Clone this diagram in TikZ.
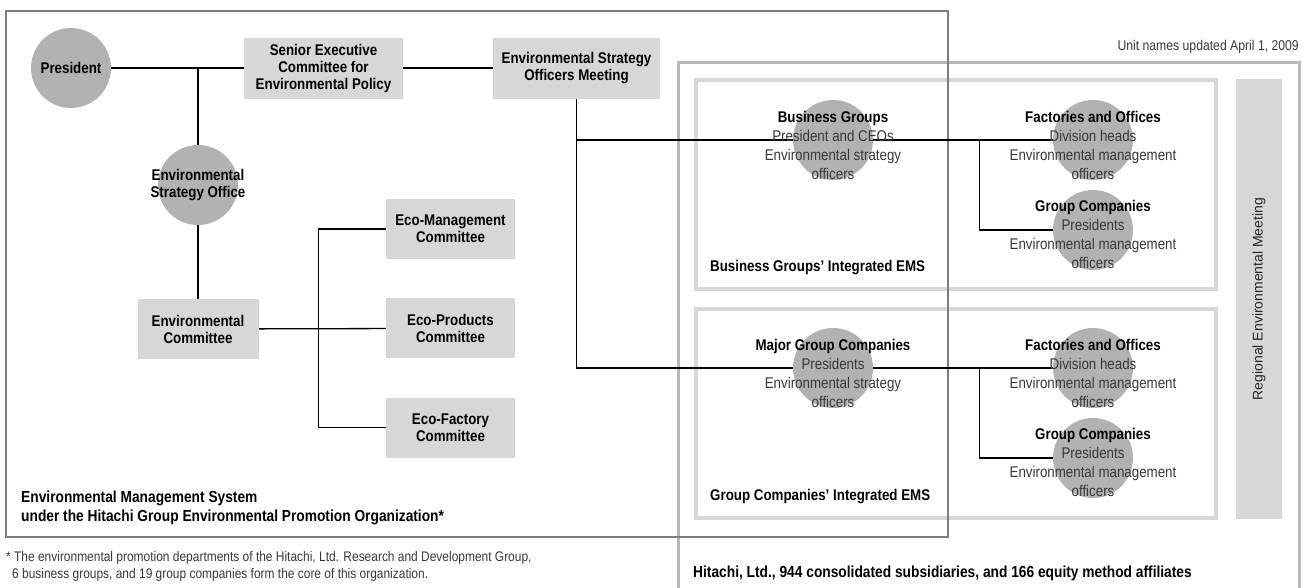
\documentclass[tikz,border=0pt]{standalone}
\usepackage{fontspec}
\setmainfont{Liberation Sans}[FakeStretch=0.86]
\newfontfamily\widesans{Liberation Sans}
\usepackage{xcolor}
\usepackage{tikz}
\usetikzlibrary{
  positioning,
  calc
}
\definecolor{unitgray}{HTML}{B1B3B3}
\definecolor{boxgray}{HTML}{D6D8D8}
\definecolor{framegray}{HTML}{7D7D7D}
\definecolor{groupgray}{HTML}{B7B9B9}
\definecolor{subtext}{HTML}{383838}
\newcommand{\unithead}[1]{\textcolor{black}{\textbf{#1}}}
\pgfdeclarelayer{frames}
\pgfdeclarelayer{wires}
\pgfsetlayers{frames,wires,main}

\begin{document}
\begin{tikzpicture}[
  x=1pt, y=-1pt,
  box/.style={fill=boxgray, minimum height=61pt, inner sep=0pt, align=center,
    font=\fontsize{15.5}{17}\selectfont\bfseries},
  unit/.style={circle, fill=unitgray, minimum size=80pt, inner sep=0pt},
  utxt/.style={align=center, inner sep=0pt, text=subtext,
    font=\fontsize{15.5}{19}\selectfont},
  wire/.style={line width=1.3pt},
  lbl/.style={anchor=west, inner sep=0pt, align=left,
    font=\fontsize{15.5}{19}\selectfont\bfseries},
]
  \useasboundingbox (0,0) rectangle (1303,587);

  % Head office side
  \node[unit, font=\fontsize{15.5}{17}\selectfont\bfseries] (pres) at (71,68) {President};
  \node[box, minimum width=159pt] (senior) at (323.5,68)
    {Senior Executive\\Committee for\\Environmental Policy};
  \node[box, minimum width=167pt] (esom) at (576.5,68)
    {Environmental Strategy\\Officers Meeting};
  \node[unit] (eso) at (198,185) {};
  \node[utxt, text=black, font=\fontsize{15.5}{16.5}\selectfont\bfseries] (esotxt) at (eso)
    {Environmental\\Strategy Office};
  \node[box, minimum width=121pt, minimum height=60pt] (ec) at (198,329)
    {Environmental\\Committee};

  % Committees
  \node[box, minimum width=129pt, minimum height=60pt] (ecom) at (450.5,229)
    {Eco-Management\\Committee};
  \node[box, minimum width=129pt, minimum height=60pt, below=39pt of ecom] (ecop)
    {Eco-Products\\Committee};
  \node[box, minimum width=129pt, minimum height=60pt, below=39pt of ecop] (ecof)
    {Eco-Factory\\Committee};

  % Units of the integrated EMS
  \node[unit] (bg) at (833,140) {};
  \node[unit] (fo1) at (1093,140) {};
  \node[unit] (gc1) at (1093,230) {};
  \node[unit] (mgc) at (833,368) {};
  \node[unit] (fo2) at (1093,368) {};
  \node[unit] (gc2) at (1093,458) {};

  \node[utxt, yshift=-5pt] (bgtxt) at (bg)
    {\unithead{Business Groups}\\President and CEOs\\Environmental strategy\\officers};
  \node[utxt, yshift=-5pt] (fo1txt) at (fo1)
    {\unithead{Factories and Offices}\\Division heads\\Environmental management\\officers};
  \node[utxt, yshift=-4pt] (gc1txt) at (gc1)
    {\unithead{Group Companies}\\Presidents\\Environmental management\\officers};
  \node[utxt, yshift=-5pt] (mgctxt) at (mgc)
    {\unithead{Major Group Companies}\\Presidents\\Environmental strategy\\officers};
  \node[utxt, yshift=-5pt] (fo2txt) at (fo2)
    {\unithead{Factories and Offices}\\Division heads\\Environmental management\\officers};
  \node[utxt, yshift=-4pt] (gc2txt) at (gc2)
    {\unithead{Group Companies}\\Presidents\\Environmental management\\officers};

  % Labels
  \node[lbl] (bgems) at (710,268) {Business Groups' Integrated EMS};
  \node[lbl] (gcems) at (710,497) {Group Companies' Integrated EMS};
  \node[lbl, font=\fontsize{16}{19}\selectfont\bfseries] (emslbl) at (21,507.5)
    {Environmental Management System\\under the Hitachi Group Environmental Promotion Organization*};
  \node[lbl, font=\fontsize{16}{19}\selectfont\bfseries] (scope) at (693,573)
    {Hitachi, Ltd., 944 consolidated subsidiaries, and 166 equity method affiliates};
  \node[anchor=east, inner sep=0pt, text=subtext, font=\fontsize{14.2}{16}\selectfont] (update)
    at (1299,47) {Unit names updated April 1, 2009};
  \node[anchor=west, inner sep=0pt, align=left, text=subtext,
    font=\fontsize{13.9}{17}\selectfont] (fnote) at (6,566.5)
    {* The environmental promotion departments of the Hitachi, Ltd. Research and Development Group,\\
     \hspace*{6pt}6 business groups, and 19 group companies form the core of this organization.};

  % Frames
  \begin{pgfonlayer}{frames}
    \draw[groupgray, line width=3pt] (678,590) -- (678,62) -- (1299,62) -- (1299,590);
    \draw[boxgray, line width=3.5pt] (696,80) rectangle (1216,289);
    \draw[boxgray, line width=3.5pt] (696,309) rectangle (1216,518);
    \fill[boxgray] (1236,79) rectangle (1282,519);
    \draw[framegray, line width=2.2pt] (6,11) rectangle (948,537);
  \end{pgfonlayer}
  \node[rotate=90, inner sep=0pt, text=black!85, font=\widesans\fontsize{14}{16}\selectfont] (rem)
    at (1259,299) {Regional Environmental Meeting};

  % Connections
  \begin{pgfonlayer}{wires}
    \draw[wire] (pres) -- (senior);
    \draw[wire] (senior) -- (esom);
    \draw[wire] (pres.east -| eso) -- (eso);
    \draw[wire] (eso) -- (ec);
    \draw[wire] (ec) -- (ecop);
    \coordinate (comfork) at ($(ec.east)!0.47!(ecop.west)$);
    \draw[wire] (ecom.west) -| (comfork) |- (ecof.west);
    \draw[wire] (esom.south) |- (fo2.west);
    \draw[wire] (esom.south |- fo1.west) -- (fo1.west);
    \coordinate (fork1) at ($(fo1.west)+(-73,0)$);
    \coordinate (fork2) at ($(fo2.west)+(-73,0)$);
    \draw[wire] (fork1) |- (gc1.west);
    \draw[wire] (fork2) |- (gc2.west);
  \end{pgfonlayer}
\end{tikzpicture}
\end{document}
